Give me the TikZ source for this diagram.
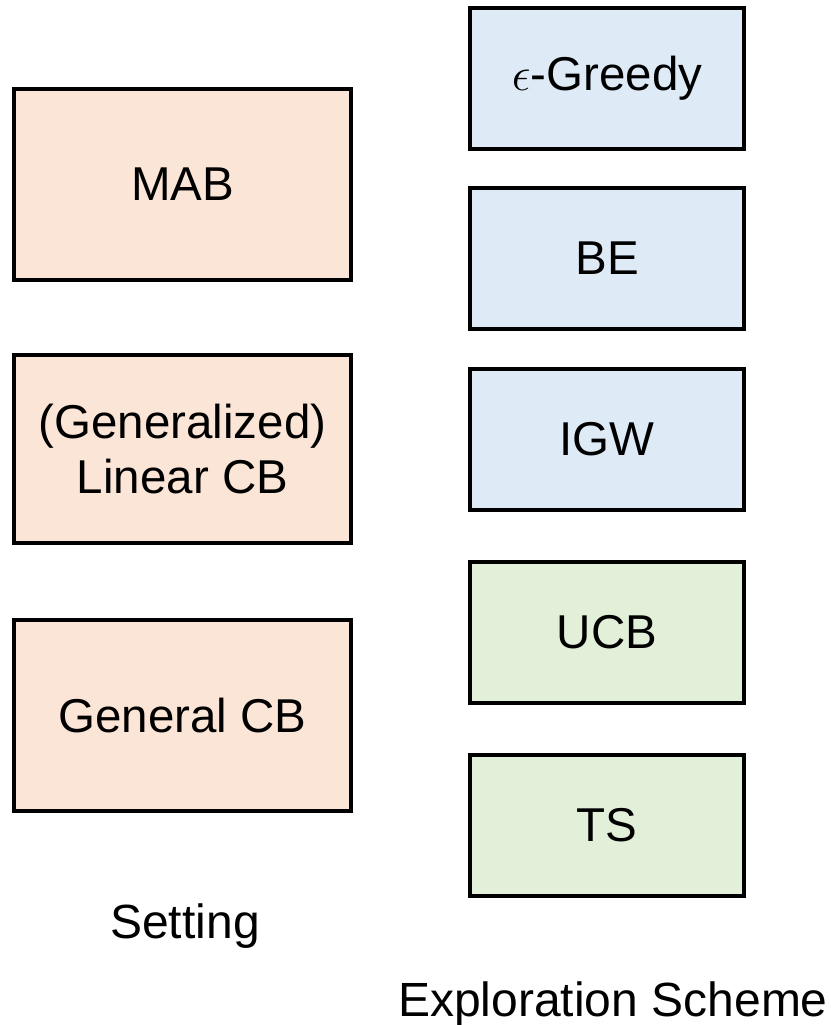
\RequirePackage{fix-cm}
\documentclass[tikz,border=0pt]{standalone}
\usepackage{fontspec}
\setmainfont{Liberation Sans}
\definecolor{peach}{HTML}{FBE5D6}
\definecolor{lblue}{HTML}{DEEBF7}
\definecolor{lgreen}{HTML}{E2F0D9}
\begin{document}
\begin{tikzpicture}[x=1pt,y=-1pt,
  box/.style={draw=black, line width=4pt, rectangle, inner sep=0pt, align=center,
    font=\fontsize{47.5}{55}\selectfont},
  setbox/.style={box, fill=peach, minimum width=337pt, minimum height=191pt},
  exbox/.style={box, minimum width=274pt, minimum height=141pt},
  caption/.style={anchor=base, inner sep=0pt, font=\fontsize{48}{55}\selectfont}]
\useasboundingbox (0,0) rectangle (830,1025);
% settings
\node[setbox] (mab) at (182.5,184) {MAB};
\node[setbox, minimum height=188pt] (lin) at (182.5,449) {(Generalized)\\Linear CB};
\node[setbox] (gen) at (182.5,715.5) {General CB};
% exploration schemes
\node[exbox, fill=lblue] (eg) at (607,78.5) {$\epsilon$-Greedy};
\node[exbox, fill=lblue] (be) at (607,258.5) {BE};
\node[exbox, fill=lblue] (igw) at (607,439) {IGW};
\node[exbox, fill=lgreen] (ucb) at (607,632) {UCB};
\node[exbox, fill=lgreen] (ts) at (607,825.5) {TS};
% captions
\node[caption] (setting) at (185,938) {Setting};
\node[caption] (expl) at (613,1016) {Exploration Scheme};
\end{tikzpicture}
\end{document}
